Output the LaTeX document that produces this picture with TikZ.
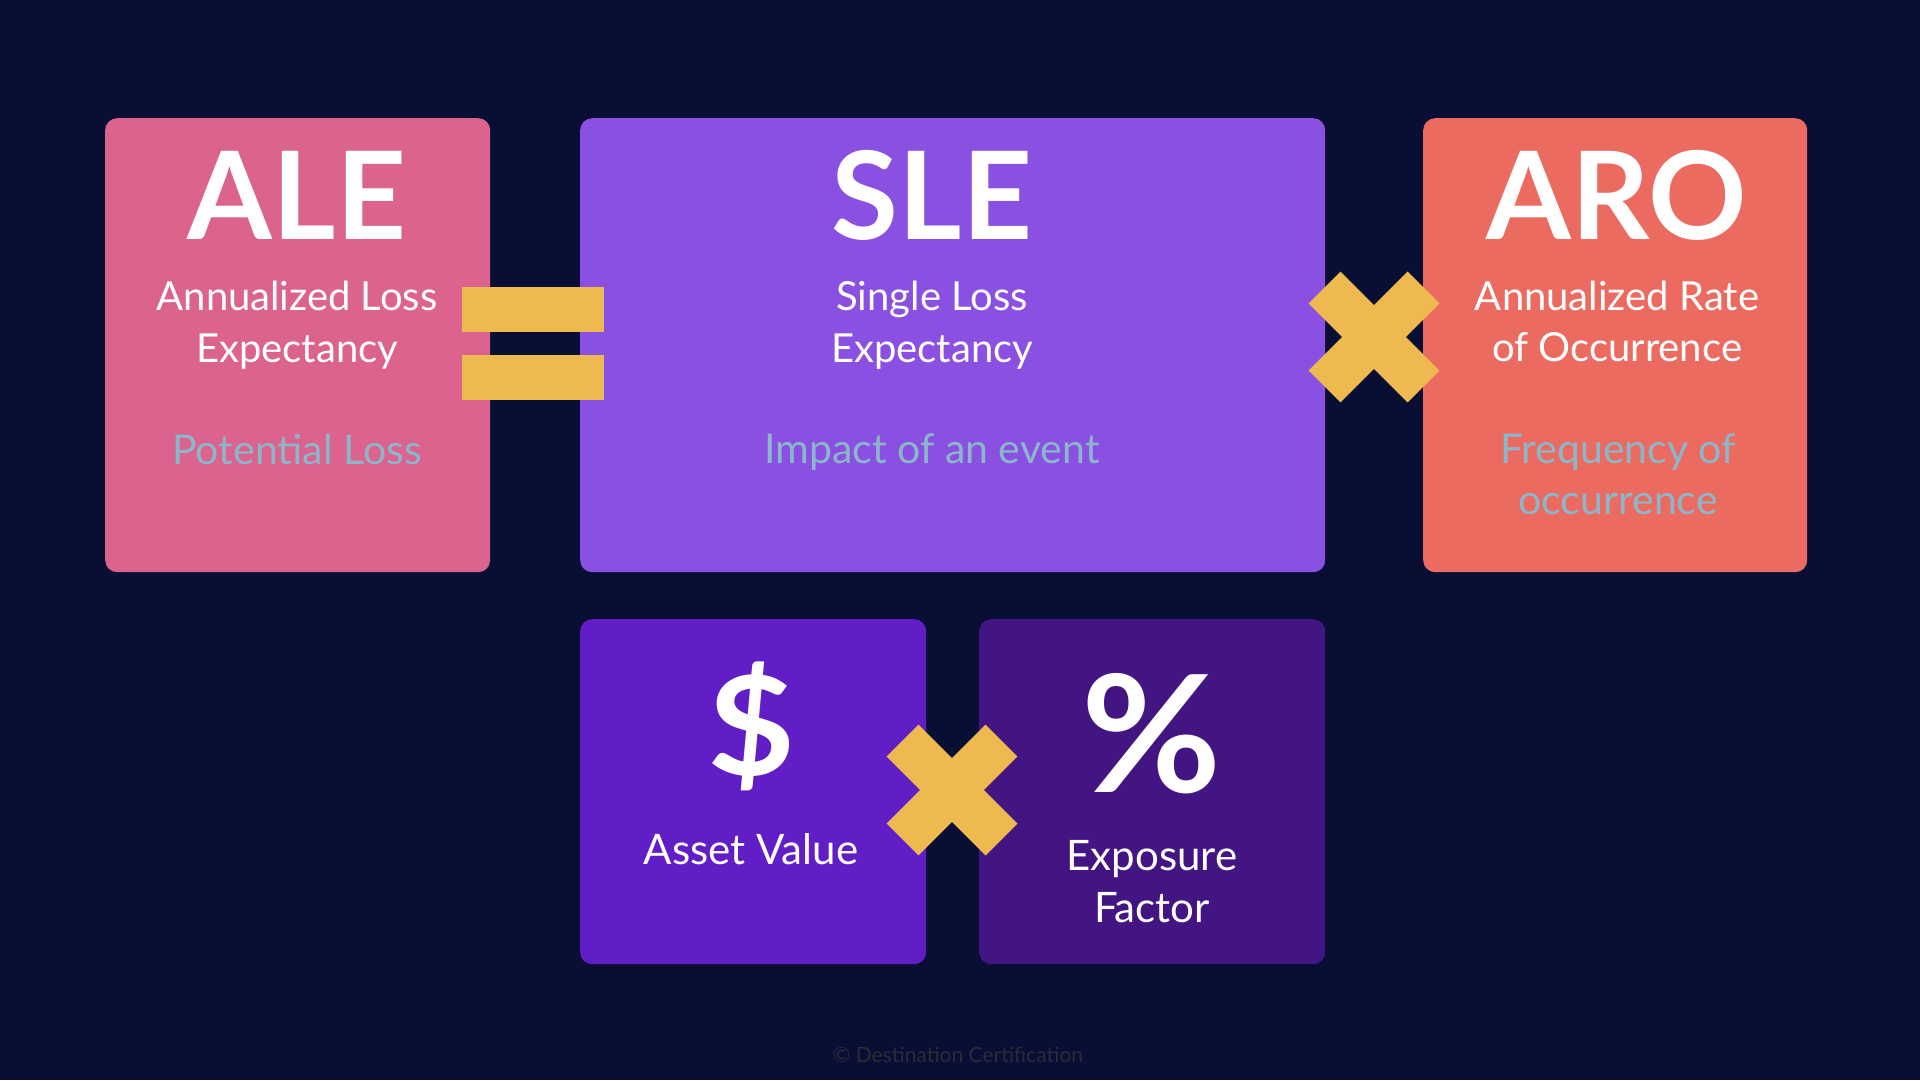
\documentclass[tikz,border=0pt]{standalone}
\usepackage{fontspec}
\setmainfont{Lato}
\definecolor{bg}{HTML}{090E35}
\definecolor{alec}{HTML}{DB638D}
\definecolor{slec}{HTML}{8A50E2}
\definecolor{aroc}{HTML}{EC6B61}
\definecolor{avc}{HTML}{611DC6}
\definecolor{efc}{HTML}{431582}
\definecolor{opc}{HTML}{EEB94E}
\definecolor{subc}{HTML}{8CB6C9}
\definecolor{footc}{HTML}{2A2C36}
\tikzset{
  card/.style={rounded corners=12pt, inner sep=0pt, anchor=north west},
  opbar/.style={fill=opc, inner sep=0pt, minimum width=142pt, minimum height=45pt, anchor=north west},
  xarm/.style={fill=opc, inner sep=0pt, minimum width=140pt, minimum height=45pt},
  abbr/.style={text=white, anchor=base, inner sep=0pt, font=\fontsize{122}{122}\selectfont\bfseries},
  full/.style={text=white, anchor=base, inner sep=0pt, font=\fontsize{40}{48}\selectfont},
  fullb/.style={text=white, anchor=base, inner sep=0pt, font=\fontsize{42}{50}\selectfont},
  sub/.style={text=subc, anchor=base, inner sep=0pt, font=\fontsize{41}{49}\selectfont},
  sym/.style={text=white, anchor=base, inner sep=0pt, font=\bfseries},
}
\begin{document}
\begin{tikzpicture}[x=1pt,y=-1pt]
\useasboundingbox (0,0) rectangle (1920,1080);
\fill[bg] (0,0) rectangle (1920,1080);

% cards
\node[card, fill=alec, minimum width=385pt, minimum height=454pt] (ale) at (105,118) {};
\node[card, fill=slec, minimum width=745pt, minimum height=454pt] (sle) at (580,118) {};
\node[card, fill=aroc, minimum width=384pt, minimum height=454pt] (aro) at (1423,118) {};
\node[card, fill=avc, minimum width=346pt, minimum height=345pt] (av) at (580,619) {};
\node[card, fill=efc, minimum width=346pt, minimum height=345pt] (ef) at (979,619) {};

% ALE text
\node[abbr] (aleT) at (297,239) {ALE};
\node[full] (aleL1) at (297,310) {Annualized Loss};
\node[full] (aleL2) at (297,362) {Expectancy};
\node[sub] (aleS) at (297,464) {Potential Loss};

% SLE text
\node[abbr] (sleT) at (932,239) {SLE};
\node[full] (sleL1) at (932,310) {Single Loss};
\node[full] (sleL2) at (932,362) {Expectancy};
\node[sub] (sleS) at (932,463) {Impact of an event};

% ARO text
\node[abbr] (aroT) at (1617,239) {ARO};
\node[full] (aroL1) at (1617,310) {Annualized Rate};
\node[full] (aroL2) at (1617,361) {of Occurrence};
\node[sub] (aroS1) at (1618,463) {Frequency of};
\node[sub] (aroS2) at (1618,514) {occurrence};

% Asset value
\node[sym, font=\fontsize{138}{138}\selectfont\bfseries, xscale=1.1] (avT) at (752,775) {\$};
\node[fullb] (avL) at (751,864) {Asset Value};

% Exposure factor
\node[sym, font=\fontsize{163}{163}\selectfont\bfseries, xscale=1.05] (efT) at (1152,792) {\%};
\node[fullb] (efL1) at (1152,870) {Exposure};
\node[fullb] (efL2) at (1152,922) {Factor};

% operators
\node[opbar] (eq1) at (462,287) {};
\node[opbar] (eq2) at (462,355) {};
\node[xarm, rotate=45] (x1a) at (1374,337) {};
\node[xarm, rotate=-45] (x1b) at (1374,337) {};
\node[xarm, rotate=45] (x2a) at (952,790) {};
\node[xarm, rotate=-45] (x2b) at (952,790) {};

% footer
\node[text=footc, anchor=base, inner sep=0pt, font=\fontsize{21}{25}\selectfont] (foot) at (958,1062) {© Destination Certification};
\end{tikzpicture}
\end{document}
